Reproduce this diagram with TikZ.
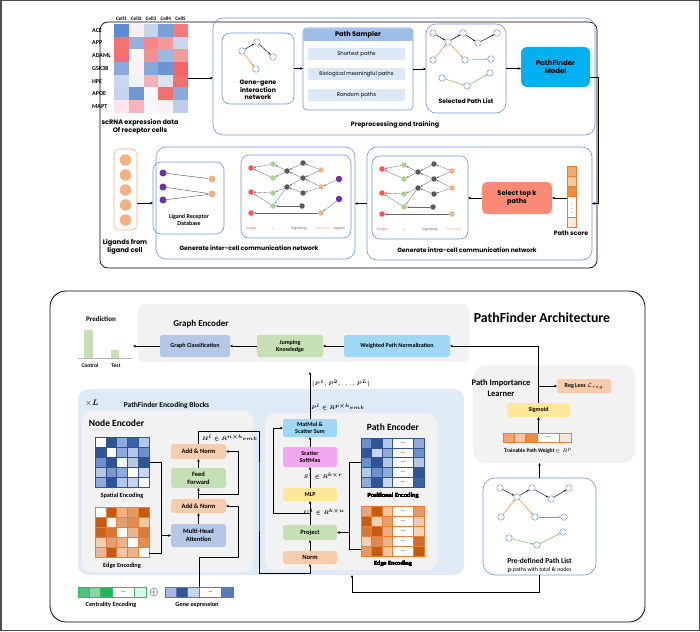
\documentclass[tikz,border=0pt]{standalone}
\usepackage{fontspec}
\usepackage{amsmath}
\setmainfont{Carlito}
\newfontfamily\hand{Poppins}
\usetikzlibrary{arrows.meta}
\usetikzlibrary{positioning}
\definecolor{linkblue}{RGB}{114,147,212}
\definecolor{pfcyan}{RGB}{0,176,240}
\definecolor{topk}{RGB}{250,137,117}
\definecolor{hdrblue}{RGB}{160,190,234}
\definecolor{barblue}{RGB}{221,232,247}
\definecolor{ligorange}{RGB}{244,177,131}
\definecolor{netred}{RGB}{255,80,80}
\definecolor{netgreen}{RGB}{169,209,142}
\definecolor{netdark}{RGB}{89,89,89}
\definecolor{netorange}{RGB}{244,177,131}
\definecolor{netpurple}{RGB}{112,48,160}
\definecolor{panelgray}{RGB}{242,242,242}
\definecolor{blockblue}{RGB}{222,235,247}
\definecolor{peach}{RGB}{248,203,173}
\definecolor{leaf}{RGB}{197,224,180}
\definecolor{lav}{RGB}{180,199,231}
\definecolor{sky}{RGB}{157,216,245}
\definecolor{butter}{RGB}{255,230,153}
\definecolor{orchid}{RGB}{242,166,240}
\definecolor{pathorange}{RGB}{237,125,49}
\definecolor{pathgreen}{RGB}{112,173,71}
\definecolor{deepblue}{RGB}{47,85,151}
\definecolor{mintgreen}{RGB}{60,179,113}

\newcommand{\fs}[1]{\fontsize{#1}{\fpeval{1.2*#1}}\selectfont}

% colour grid: x0, y0, cell w, cell h, border, rows
\newcommand{\drawgrid}[6]{%
  \foreach \row [count=\r from 0] in {#6} {
    \foreach \hx [count=\c from 0] in \row {
      \definecolor{cellc}{HTML}{\hx}
      \filldraw[fill=cellc, draw=#5, line width=0.4pt] (#1+\c*#3, #2+\r*#4) rectangle ++(#3,#4);
    }
  }%
}
% one row: 3 cells, a wide "..." cell, 1 cell
\newcommand{\dotrow}[6]{%
  \foreach \hx [count=\c from 0] in #6 {
    \pgfmathsetmacro\xa{#1+#3*\c+#3*(\c>3)}
    \pgfmathsetmacro\cw{#3*(1+(\c==3))}
    \definecolor{cellc}{HTML}{\hx}
    \filldraw[fill=cellc, draw=#5, line width=0.4pt] (\xa,#2) rectangle ++(\cw,#4);
  }
  \node[font=\bfseries\fs{5}, inner sep=0] at (#1+4*#3, #2+#4/2) {...};%
}
% signalling network (targets, TFs, signalling, receptors)
\newcommand{\commnet}{%
  \foreach \nm/\px/\py/\cl in {t1/0/0/netred, t2/0/24/netred, t3/0/45/netred,
      f1/22/-4/netgreen, f2/22/10/netgreen, f3/22/25/netgreen, f4/22/38/netgreen,
      q1/36/3/netdark, q2/52/-5/netdark, q3/52/10/netdark, q4/36/19/netdark,
      q5/52/25/netdark, q6/51/38/netdark,
      r1/70/2/netorange, r2/70/19/netorange, r3/70/45/netorange}
    \node[cn, fill=\cl] (\nm) at (\px,\py) {};
  \foreach \a/\b in {f1/t1, f2/t1, f3/t2, f4/t2, q1/f1, q1/f2, q2/q1, q3/q1,
      r1/q2, r1/q3, r2/q3, r2/q5, q4/f3, q4/f4, q3/q4, q5/q4, q6/f4, r3/t3}
    \draw[netarr] (\a) -- (\b);
  \node[netlbl, text=netred] (lt) at (0,61) {Target};
  \node[netlbl, text=netgreen] (lf) at (22,61) {TF};
  \node[netlbl, text=netdark] (ls) at (48,61) {Signaling};
  \node[netlbl, text=netorange] (lr) at (72,61) {Receptor};%
}

\begin{document}
\begin{tikzpicture}[x=1pt, y=-1pt,
    arr/.style={-{Stealth[length=3pt,width=2.6pt]}, line width=0.5pt},
    garr/.style={-{Stealth[length=2.2pt,width=2pt]}, line width=0.45pt},
    netarr/.style={-{Stealth[length=2pt,width=1.8pt]}, line width=0.3pt, black!60},
    gn/.style={circle, draw=linkblue, fill=white, line width=0.5pt, inner sep=0, minimum size=6.5pt},
    cn/.style={circle, inner sep=0, minimum size=5.5pt},
    netlbl/.style={font=\hand\fs{3.3}, inner sep=0},
    frame/.style={inner sep=0, outer sep=0},
    sz/.style 2 args={minimum width=#1, minimum height=#2},
    bluebox/.style={frame, draw=linkblue, line width=0.6pt, rounded corners=#1},
    cal/.style={font=\bfseries\fs{#1}},
    hnd/.style={font=\hand\fs{#1}},
    hndb/.style={font=\hand\bfseries\fs{#1}},
    blk/.style={frame, rounded corners=2.5pt, align=center, cal=6}]
\useasboundingbox (0,0) rectangle (700,631);
\draw[gray!60!black, line width=1.5pt] (0.75,0.75) rectangle (699.25,630.25);

% ================= workflow
\node[frame, draw, line width=0.7pt, rounded corners=8pt, sz={497}{246}] (wf) at (348.5,145) {};
\node[bluebox=10pt, sz={382}{117}] (pre) at (404,76.5) {};
\node[hndb=6.3] (pretxt) at (395,125) {Preprocessing and training};

% heatmap
\node[frame, sz={74}{89}] (hm) at (151,68.5) {};
\drawgrid{114}{24}{14.8}{12.7}{none}{{5B8BD0,FBEEF2,C5D5EC,7AA0D8,F77B7B},
  {F47474,93B0DE,F48888,F59A9A,C8D7EE},{F47070,F8F8FB,F69090,9DB8E0,F59A9A},
  {8AAADB,FCF1F3,85A7DA,6A94D3,F56565},{C9D8EE,EEF2F9,F6B0B5,D8E3F2,F47070},
  {C5D5EC,6E98D4,F8F8FB,F47070,8BAADB},{FBE6EC,F7B5BB,F6F6FA,FDF0F3,BCCFE9}}
\foreach \lb [count=\i from 0] in {ACE,APP,ADAML,GSK3B,HPE,APOE,MAPT}
  \node[cal=6, anchor=west, inner sep=0] (gene\i) at (92,30.3+\i*12.7) {\lb};
\foreach \i in {1,...,5}
  \node[cal=5.2, inner sep=0] (cell\i) at (106.6+\i*14.8,19) {Cell\i};
\node[hndb=6.5, align=center] (hmtxt) at (140,127) {scRNA expression data\\Of receptor cells};

% gene-gene network
\node[bluebox=8pt, sz={72}{71}] (gg) at (258,68.5) {};
\node[gn] (g1) at (242,51) {};
\node[gn] (g2) at (257,42) {};
\node[gn] (g3) at (273,57) {};
\node[gn] (g4) at (256,69) {};
\draw[garr] (g1) -- (g2);
\draw[garr] (g2) -- (g3);
\draw[garr, pathorange] (g1) -- (g4);
\node[hndb=6.3, align=center] (ggtxt) at (258,90) {Gene-gene\\interaction\\network};

% path sampler
\node[frame, draw=linkblue, fill=white, line width=0.6pt, rounded corners=4pt, sz={110}{82}] (ps) at (358,69) {};
\fill[hdrblue] (303.3,41) [rounded corners=4pt] -- (303.3,28.3) -- (412.7,28.3) [sharp corners] -- (412.7,41) -- cycle;
\node[hndb=6.6] (pstxt) at (358,34.5) {Path Sampler};
\node[frame, fill=barblue, sz={97}{12}, hnd=5.3] (sp1) at (356.5,54) {Shortest paths};
\node[frame, fill=barblue, sz={97}{12}, hnd=5.3] (sp2) at (356.5,74.5) {Biological meaningful paths};
\node[frame, fill=barblue, sz={97}{12}, hnd=5.3] (sp3) at (356.5,95) {Random paths};

% selected paths
\node[bluebox=10pt, sz={80}{89}] (sel) at (466,68.5) {};
\foreach \nm/\px/\py in {s1/433/33, s2/448/42, s3/463/33, s4/478/43, s5/497/33, s6/433/60,
    s7/465/60, s8/491/59, s9/442/78, s10/467/86, s11/490/73}
  \node[gn] (\nm) at (\px,\py) {};
\foreach \a/\b in {s1/s2, s2/s3, s3/s4, s4/s5}
  \draw[garr] (\a) -- (\b);
\foreach \a/\b in {s6/s2, s2/s7, s7/s8}
  \draw[garr, pathorange] (\a) -- (\b);
\foreach \a/\b in {s9/s10, s10/s11}
  \draw[garr, pathgreen] (\a) -- (\b);
\node[hndb=6.1] (seltxt) at (466,101) {Selected Path List};

\node[frame, fill=pfcyan, rounded corners=6pt, sz={69}{40}, hndb=7, align=center] (pfm) at (555.5,67) {PathFinder\\Model};

\draw[arr] ([yshift=-9.5pt]hm.east) -- ([yshift=-9.5pt]hm.east -| pre.west);
\draw[arr] (gg.east) -- (gg.east -| ps.west);
\draw[arr] (ps.east) -- (ps.east -| sel.west);
\draw[arr] (sel.east) -- (sel.east -| pfm.west);

% intra-cell
\node[bluebox=10pt, sz={225}{113}] (intra) at (479.5,203.5) {};
\node[bluebox=8pt, sz={96}{83}] (ig) at (420,197.5) {};
\begin{scope}[shift={(382,169)}, name prefix=b-]
  \commnet
\end{scope}
\node[hndb=6.1] (intratxt) at (467,250) {Generate intra-cell communication network};
\node[frame, fill=topk, rounded corners=5pt, sz={70}{32}, hndb=6.6, align=center] (sk) at (517,198) {Select top k\\paths};
\node[frame, sz={9}{61}] (score) at (571.5,196.5) {};
\foreach \ya/\yb/\hx in {166/176/F4A673, 176/186/F8C8A6, 186/196/EE8A3E, 196/217/FFFFFF, 217/227/FCE8DC} {
  \definecolor{cellc}{HTML}{\hx}
  \filldraw[fill=cellc, draw=pathorange, line width=0.5pt] (567,\ya) rectangle (576,\yb);
}
\node[font=\fs{5}, inner sep=0] (vd) at (571.5,206.5) {$\vdots$};
\node[hndb=6.3] (scoretxt) at (571,233) {Path score};

% inter-cell
\node[bluebox=10pt, sz={199}{112}] (inter) at (255.5,203) {};
\node[bluebox=8pt, sz={71}{72}] (lrdb) at (188.5,198) {};
\foreach \nm/\py in {p1/173, p2/187, p3/200}
  \node[cn, fill=netpurple, minimum size=7pt] (\nm) at (163,\py) {};
\foreach \nm/\py in {o1/179, o2/194}
  \node[cn, fill=netorange, minimum size=7pt] (\nm) at (212,\py) {};
\draw[black!70, line width=0.4pt] (p1) -- (o1) (p2) -- (o2) (p3) -- (o2);
\node[cal=6, align=center] (lrtxt) at (189,220) {Ligand Receptor\\Database};
\node[bluebox=8pt, sz={110}{83}] (ag) at (296,196.5) {};
\begin{scope}[shift={(251,168)}, name prefix=a-]
  \commnet
\end{scope}
\node[cn, fill=netpurple, minimum size=6.5pt] (l1) at (339,179) {};
\node[cn, fill=netpurple, minimum size=6.5pt] (l2) at (339,199) {};
\draw[netarr] (l1) -- (a-r2);
\draw[netarr] (l2) -- (a-r3);
\node[netlbl, text=netdark] (lligand) at (339,229) {Ligand};
\node[hndb=6.1] (intertxt) at (249,248) {Generate inter-cell communication network};

\node[frame, draw=ligorange, line width=0.6pt, rounded corners=5pt, sz={23}{81}] (lig) at (125.5,189.5) {};
\foreach \y in {160,175,190,205,220}
  \node[cn, fill=ligorange, minimum size=11.5pt] (lg\y) at (125.5,\y) {};
\node[hndb=6.6, align=center] (ligtxt) at (125,247) {Ligands from\\ligand cell};

\draw[arr] ([yshift=-10pt]pfm.east) -- ++(8,0) |- (intra.east);
\draw[arr] (score.west |- sk.east) -- (sk.east);
\draw[arr] (sk.west) -- (sk.west -| ig.east);
\draw[arr] (intra.west) -- (intra.west -| inter.east);
\draw[arr] ([yshift=-13.5pt]lig.east) -- ([yshift=-13.5pt]lig.east -| lrdb.west);

% ================= architecture
\node[frame, draw, line width=0.8pt, rounded corners=16pt, sz={595}{331}] (arch) at (347.5,456.5) {};
\node[cal=13.8] (archtxt) at (542,318) {PathFinder Architecture};

% graph encoder
\node[frame, fill=panelgray, rounded corners=6pt, sz={331}{58}] (genc) at (303.5,333) {};
\node[cal=9] (genctxt) at (201,324) {Graph Encoder};
\node[blk, fill=lav, sz={70}{22}] (gc) at (195,346) {Graph Classification};
\node[blk, fill=leaf, sz={66}{22}] (jk) at (290,346) {Jumping\\Knowledge};
\node[blk, fill=sky, sz={106}{22}] (wpn) at (397,346) {Weighted Path Normalization};
\coordinate (pred) at (133,346);
\node[cal=7] (predtxt) at (101,319) {Prediction};
\fill[leaf] (84,330) rectangle (93,358);
\fill[leaf] (111,350) rectangle (119,358);
\draw[gray!60, line width=0.5pt] (78,358.5) -- (132,358.5);
\node[cal=5.5] (ctrl) at (90,366) {Control};
\node[cal=5.5] (test) at (116,366) {Test};
\draw[arr] (wpn) -- (jk);
\draw[arr] (jk) -- (gc);
\draw[arr] (gc) -- (pred);

% encoding blocks
\node[frame, fill=blockblue, rounded corners=10pt, sz={386}{186}] (blk) at (271,482) {};
\node[font=\fs{8}] (xl) at (92,403) {$\times \boldsymbol{L}$};
\node[cal=7.5] (blktxt) at (166.5,405) {PathFinder Encoding Blocks};

% node encoder
\node[frame, fill=panelgray, rounded corners=10pt, sz={171}{161}] (ne) at (167.5,491.5) {};
\node[cal=9.5] (netxt) at (116.5,423) {Node Encoder};
\node[frame, sz={54}{50}] (sp) at (122,462) {};
\drawgrid{95}{437}{10.8}{10}{deepblue}{{FFFFFF,2F5597,8FAADC,3A62A8,B4C7E7},
  {2F5597,FFFFFF,8FAADC,B4C7E7,6D8FCB},{6F8FCE,2F5597,FFFFFF,B4C7E7,2F5597},
  {B4C7E7,7A97D0,8FAADC,FFFFFF,C9D6EE},{8FAADC,2F5597,B4C7E7,C7D3EC,FFFFFF}}
\node[cal=6.3] (sptxt) at (122,495.5) {Spatial Encoding};
\node[frame, sz={54}{50}] (ee) at (122,532) {};
\drawgrid{95}{507}{10.8}{10}{pathorange}{{FFFFFF,C55A11,F4B183,E29A66,C55A11},
  {C55A11,FFFFFF,E2A070,E08A50,F2C8A8},{C9631D,D9773A,FFFFFF,EAB48C,D77A3F},
  {F4CFB4,E4A070,EAB48C,FFFFFF,E2904F},{EEB690,C55A11,F3C7A6,EAB48C,FFFFFF}}
\node[cal=6.3] (eetxt) at (122,565.5) {Edge Encoding};
\node[blk, fill=lav, sz={55}{23}, cal=6.5] (mha) at (198.5,535.5) {Multi-Head\\Attention};
\node[blk, fill=peach, sz={55}{14}, cal=6.5] (an1) at (198.5,506) {Add \& Norm};
\node[blk, fill=leaf, sz={55}{20}, cal=6.5] (ff) at (198.5,478) {Feed\\Forward};
\node[blk, fill=peach, sz={55}{15}, cal=6.5] (an2) at (198.5,451.5) {Add \& Norm};
\draw[arr] (sp.east) -| ([xshift=-10pt]mha.west) -- (mha.west);
\draw ([yshift=-21pt]ee.east) -| ([xshift=-10pt]mha.west);
\draw[arr] (mha) -- (an1);
\draw[arr] (an1) -- (ff);
\draw[arr] (ff) -- (an2);
\draw[arr] ([yshift=5pt]an1.north) -| ([xshift=12pt]an2.east) -- (an2.east);
\node[font=\fs{5.5}, anchor=west, inner sep=0] (hl) at (202,438) {$\boldsymbol{H^l\in R^{n\times h_{emb}}}$};

% path encoder
\node[frame, fill=panelgray, rounded corners=10pt, sz={172}{157}] (pe) at (351,491.5) {};
\node[cal=9.5] (petxt) at (393,427) {Path Encoder};
\node[blk, fill=sky, sz={54}{18}] (mm) at (310,428) {MatMul \&\\Scatter Sum};
\node[blk, fill=orchid, sz={54}{20}] (ssm) at (310,457) {Scatter\\SoftMax};
\node[blk, fill=butter, sz={54}{13}] (mlp) at (310,494.5) {MLP};
\node[blk, fill=leaf, sz={54}{15}, cal=6.5] (prj) at (310,532.5) {Project};
\node[blk, fill=peach, sz={54}{13}, cal=6.5] (norm) at (310,557.5) {Norm};
\draw[arr] (norm) -- (prj);
\draw[arr] (prj) -- (mlp);
\draw[arr] (mlp) -- (ssm);
\draw[arr] (ssm) -- (mm);
\draw[arr] ([yshift=-12pt]mlp.south) -| ([xshift=-10pt]mm.west) -- (mm.west);
\node[font=\fs{5.5}] (slab) at (323,476) {$\boldsymbol{S^1\in R^{k\times r}}$};
\node[font=\fs{5.5}] (ulab) at (324,512) {$\boldsymbol{U^1\in R^{k\times u}}$};
\node[frame, sz={63}{49}] (pos) at (392.5,462.5) {};
\foreach \row [count=\r from 0] in {{6D8FCB,2F5597,B4C7E7,FFFFFF,8FAADC},{2F5597,C9D6EE,8FAADC,FFFFFF,6D8FCB},
    {6D8FCB,2F5597,B4C7E7,FFFFFF,B4C7E7},{B4C7E7,6D8FCB,8FAADC,FFFFFF,2F5597},{8FAADC,2F5597,C9D6EE,FFFFFF,3A62A8}}
  \dotrow{361}{438+\r*9.8}{10.5}{9.8}{deepblue}{\row}
\node[cal=6.3] (postxt) at (393,495.5) {Positional Encoding};
\node[frame, sz={63}{50}] (pee) at (392.5,531) {};
\foreach \row [count=\r from 0] in {{E8A67A,C55A11,F4C7A8,FFFFFF,E29A66},{C55A11,F4CFB4,E2A070,FFFFFF,F2C8A8},
    {D9773A,C55A11,E8B08A,FFFFFF,F4D3BC},{F4CFB4,E08A50,EAB48C,FFFFFF,D06C2A},{E29A66,C55A11,F3C7A6,FFFFFF,C55A11}}
  \dotrow{361}{506+\r*10}{10.5}{10}{pathorange}{\row}
\node[cal=6.3] (peetxt) at (393,564) {Edge Encoding};
\draw (pos.west) -| ([xshift=12pt]prj.east);
\draw ([yshift=-18pt]pee.west) -| ([xshift=12pt]prj.east);
\draw[arr] ([xshift=12pt]prj.east) -- (prj.east);
\draw[arr] (an2.north) -- ++(0,-13) -| ([xshift=6pt]ne.east) |- ([yshift=-9pt]norm.south) -- (norm.south);
\draw[arr, shorten >=10pt] (mm.north) -- (mm.north |- genc.south);
\node[font=\fs{5.5}] (plist) at (341,383) {$\boldsymbol{[P^1,P^2,\dots,P^L]}$};
\node[font=\fs{5.5}] (plab) at (338,407) {$\boldsymbol{P^l\in R^{p\times h_{emb}}}$};

% inputs
\node[frame, sz={68}{10}] (cen) at (112,592) {};
\dotrow{78}{587}{11.33}{10}{mintgreen}{{4CC27A,8BD5A6,22B357,FFFFFF,DFF3E6}}
\node[cal=6.3] (centxt) at (111,605) {Centrality Encoding};
\node[font=\fs{13}, inner sep=0] (plus) at (154,592) {$\oplus$};
\node[frame, sz={68}{10}] (gex) at (199,592) {};
\dotrow{165}{587}{11.33}{10}{deepblue!80}{{A8B9DC,2F5597,C9D5EC,FFFFFF,5B7BBF}}
\node[cal=6.3] (gextxt) at (197,605) {Gene expression};
\draw[arr] (gex.north) -- ++(0,-30) -| ([xshift=12pt]an1.east) -- (an1.east);

% path importance learner
\node[frame, fill=panelgray, rounded corners=12pt, sz={162}{98}] (pil) at (554,414) {};
\node[cal=8.5, align=center] (piltxt) at (501,388) {Path Importance\\Learner};
\node[blk, fill=peach, sz={54}{14}] (rl) at (584,386) {Reg Loss $\mathcal{L}_{reg}$};
\node[blk, fill=butter, sz={63}{14}] (sig) at (538.5,410) {Sigmoid};
\node[frame, sz={68}{9}] (tw) at (537,437.5) {};
\dotrow{503}{433}{11.33}{9}{pathorange}{{F3A273,F8C3A0,EF8A3C,FFFFFF,FBE5D6}}
\node[cal=5.5] (twtxt) at (538,451) {Trainable Path Weight $\in R^p$};
\draw[arr] (tw.north -| sig.south) -- (sig.south);
\draw[arr] (sig.north) |- (wpn.east);
\draw[arr] (sig.north |- rl.west) -- (rl.west);

% pre-defined path list
\node[frame, draw=linkblue, fill=white, line width=0.6pt, rounded corners=12pt, sz={113}{97}] (pdl) at (539.5,526.5) {};
\foreach \nm/\px/\py in {d1/500/488, d2/517/497, d3/532/488, d4/551/499, d5/569/488, d6/501/517,
    d7/535/517, d8/564/517, d9/509/538, d10/537/545, d11/563/532}
  \node[gn] (\nm) at (\px,\py) {};
\foreach \a/\b in {d1/d2, d2/d3, d3/d4, d4/d5}
  \draw[garr] (\a) -- (\b);
\foreach \a/\b in {d6/d2, d2/d7, d7/d8}
  \draw[garr, pathorange] (\a) -- (\b);
\foreach \a/\b in {d9/d10, d10/d11}
  \draw[garr, pathgreen] (\a) -- (\b);
\node[cal=7.5] (pdltxt) at (539.5,561) {Pre-defined Path List};
\node[font=\fs{5.8}] (pdlsub) at (539.5,570) {$\boldsymbol{p}$ paths with total $\boldsymbol{k}$ nodes};
\draw[arr] (pdl.north) -- (pdl.north |- pil.south);
\draw[arr] (pdl.south) -- ++(0,17) -| ([xshift=81pt]blk.south);
\end{tikzpicture}
\end{document}
